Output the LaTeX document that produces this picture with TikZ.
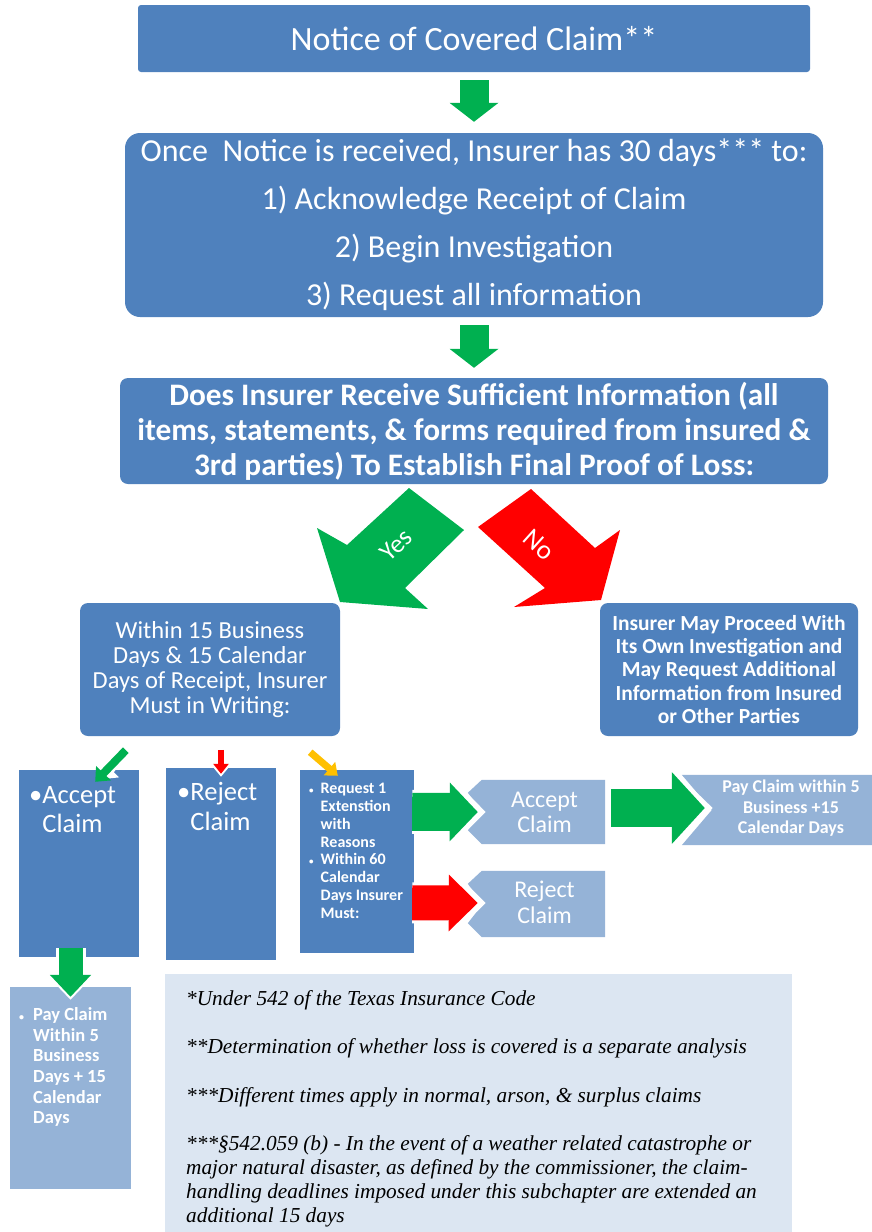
\documentclass[tikz,border=0pt]{standalone}
\usepackage{fontspec}
\setmainfont{Carlito}
\newfontfamily\notefont{Liberation Serif}
\usetikzlibrary{arrows.meta}
\usetikzlibrary{calc}
\definecolor{boxblue}{RGB}{79,129,189}
\definecolor{paleblue}{RGB}{149,179,215}
\definecolor{noteblue}{RGB}{220,230,242}
\definecolor{gogreen}{RGB}{0,176,80}
\definecolor{stopred}{RGB}{255,0,0}
\definecolor{waitamber}{RGB}{255,192,0}
\tikzset{
  darkbox/.style={fill=boxblue, inner sep=0pt, text=white, align=center},
  lightbox/.style={inner sep=0pt, text=white, align=center},
  rowtext/.style={text=white, inner sep=0pt, align=left, anchor=north west},
  blk/.style args={#1/#2/#3}{line width=#1, -{Triangle[length=#2, width=#3]}},
}

\begin{document}
\begin{tikzpicture}[x=1pt, y=-1pt]
      \useasboundingbox (0,0) rectangle (872,1232);
      % main column
      \node[darkbox, rounded corners=3pt, minimum width=672pt, minimum height=67pt, font=\fontsize{34}{40}\selectfont] (notice) at (474,38.5) {Notice of Covered Claim**};
      \node[darkbox, rounded corners=15pt, minimum width=698pt, minimum height=184pt, font=\fontsize{32}{48}\selectfont] (once) at (474,225)
        {Once\ \ Notice is received, Insurer has 30 days*** to:\\1) Acknowledge Receipt of Claim\\2) Begin Investigation\\3) Request all information};
      \node[darkbox, rounded corners=8pt, minimum width=708pt, minimum height=106pt, font=\bfseries\fontsize{31.3}{35}\selectfont] (does) at (474,431)
        {Does Insurer Receive Sufficient Information (all\\items, statements, \& forms required from insured \&\\3rd parties) To Establish Final Proof of Loss:};
      \draw[blk=29pt/19pt/48pt, gogreen] ([yshift=-8pt]notice.south) -- ([yshift=11pt]once.north);
      \draw[blk=29pt/19pt/48pt, gogreen] ([yshift=-8pt]once.south) -- ([yshift=10pt]does.north);

      % yes / no
      \fill[gogreen] (409,488) -- (464,530) -- (405,588) -- (428,609) -- (340,602) -- (317,528) -- (347,545) -- cycle;
      \node[text=white, rotate=43, font=\fontsize{26}{26}\selectfont] (yes) at (396,545) {Yes};
      \fill[stopred] (478,527) -- (531,489) -- (595,548) -- (620,530) -- (601,600) -- (514,607) -- (545,588) -- cycle;
      \node[text=white, rotate=-42, font=\fontsize{27}{27}\selectfont] (no) at (539,545) {No};

      \node[darkbox, rounded corners=8pt, minimum width=260pt, minimum height=133pt, font=\fontsize{24.5}{25}\selectfont] (within) at (210,669.5)
        {Within 15 Business\\Days \& 15 Calendar\\Days of Receipt, Insurer\\Must in Writing:};
      \node[darkbox, rounded corners=8pt, minimum width=258pt, minimum height=133pt, font=\bfseries\fontsize{21.5}{23.2}\selectfont] (proceed) at (729,669.5)
        {Insurer May Proceed With\\Its Own Investigation and\\May Request Additional\\Information from Insured\\or Other Parties};

      % row of outcomes
      \node[darkbox, minimum width=120pt, minimum height=187pt] (accbox) at (79,863.5) {};
      \node[darkbox, minimum width=110pt, minimum height=192pt] (rejbox) at (221,864) {};
      \node[darkbox, minimum width=114pt, minimum height=183pt] (reqbox) at (357,861.5) {};
      \node[rowtext, font=\fontsize{26.5}{29}\selectfont] (acctext) at (29,786) {\textbullet Accept\\\phantom{\textbullet}Claim};
      \node[rowtext, font=\fontsize{26.5}{30}\selectfont] (rejtext) at (177,782) {\textbullet Reject\\\phantom{\textbullet}Claim};
      \node[rowtext, font=\bfseries\fontsize{16}{17.8}\selectfont] (reqtext) at (309,781)
        {\begin{tabular}{@{}l@{\hspace{7pt}}l@{}}
         {\fontsize{9}{9}\selectfont\textbullet} & Request 1\\ & Extenstion\\ & with\\ & Reasons\\
         {\fontsize{9}{9}\selectfont\textbullet} & Within 60\\ & Calendar\\ & Days Insurer\\ & Must:
         \end{tabular}};

      \node[lightbox, minimum width=137pt, minimum height=64pt] (accchev) at (536.5,812) {};
      \fill[paleblue] ($(accchev.north west)+(14,0)$) -- (accchev.north east) -- (accchev.south east) -- ($(accchev.south west)+(14,0)$)
        -- ($(accchev.south west)+(0,-14)$) -- ($(accchev.west)+(15,0)$) -- ($(accchev.north west)+(0,13)$) -- cycle;
      \node[lightbox, font=\fontsize{24}{25}\selectfont] (acclabel) at ($(accchev)+(8,0)$) {Accept\\Claim};
      \node[lightbox, minimum width=137pt, minimum height=66pt] (rejchev) at (536.5,904) {};
      \fill[paleblue] ($(rejchev.north west)+(14,0)$) -- (rejchev.north east) -- (rejchev.south east) -- ($(rejchev.south west)+(14,0)$)
        -- ($(rejchev.south west)+(0,-14)$) -- ($(rejchev.west)+(15,0)$) -- ($(rejchev.north west)+(0,13)$) -- cycle;
      \node[lightbox, font=\fontsize{24}{26}\selectfont] (rejlabel) at ($(rejchev)+(8,-2)$) {Reject\\Claim};
      \node[lightbox, minimum width=190pt, minimum height=70pt] (paybox) at (777,810) {};
      \fill[paleblue] (paybox.north west) -- (paybox.north east) -- (paybox.south east) -- (paybox.south west) -- ($(paybox.west)+(30,0)$) -- cycle;
      \node[lightbox, font=\bfseries\fontsize{18}{20.5}\selectfont] (paylabel) at ($(paybox)+(14,-1.5)$) {Pay Claim within 5\\Business +15\\Calendar Days};

      \node[lightbox, fill=paleblue, minimum width=121pt, minimum height=202pt] (paybox2) at (70.5,1088) {};
      \node[rowtext, font=\bfseries\fontsize{18.5}{20.6}\selectfont] (paytext) at (19,1006)
        {\begin{tabular}{@{}l@{\hspace{9pt}}l@{}}
         {\fontsize{10}{10}\selectfont\textbullet} & Pay Claim\\ & Within 5\\ & Business\\ & Days + 15\\ & Calendar\\ & Days
         \end{tabular}};

      % small arrows
      \draw[blk=13pt/17pt/27pt, white] ($(within.south west)+(46,14)$) -- ($(accbox.north east)+(-42,10)$);
      \draw[blk=8pt/12pt/20pt, gogreen] ($(within.south west)+(46,14)$) -- ($(accbox.north east)+(-44,12)$);
      \draw[blk=11pt/14pt/22pt, white] ($(rejbox.north)+(0,-18)$) -- ($(rejbox.north)+(0,9)$);
      \draw[blk=6pt/10pt/15pt, stopred] ($(rejbox.north)+(0,-18)$) -- ($(rejbox.north)+(0,6)$);
      \draw[blk=7pt/11pt/17pt, waitamber] ($(within.south east)+(-30,16)$) -- ($(reqbox.north west)+(38,6)$);

      \draw[blk=44pt/40pt/78pt, white] ($(reqbox.north east)+(-2,42)$) -- ($(accchev.west)+(18,0)$);
      \draw[blk=38pt/28pt/57pt, gogreen] ($(reqbox.north east)+(-2,42)$) -- ($(accchev.west)+(10,0)$);
      \draw[blk=41pt/40pt/76pt, white] ($(reqbox.north east)+(-2,133)$) -- ($(rejchev.west)+(18,-1)$);
      \draw[blk=35pt/29pt/55pt, stopred] ($(reqbox.north east)+(-2,133)$) -- ($(rejchev.west)+(10,-1)$);
      \draw[blk=44pt/46pt/86pt, white] ($(accchev.east)+(6,-4)$) -- ($(paybox.west)+(31,-2)$);
      \draw[blk=38pt/33pt/70pt, gogreen] ($(accchev.east)+(6,-4)$) -- ($(paybox.west)+(23,-2)$);
      \draw[blk=30pt/26pt/48pt, white] ($(paybox2.north)+(0,-39)$) -- ($(paybox2.north)+(0,13)$);
      \draw[blk=24pt/22pt/40pt, gogreen] ($(paybox2.north)+(0,-39)$) -- ($(paybox2.north)+(0,10)$);

      % notes
      \node[fill=noteblue, inner sep=0pt, minimum width=627pt, minimum height=258pt] (notes) at (478.5,1103) {};
      \node[text=black, inner sep=0pt, align=left, anchor=north west, font=\notefont\itshape\fontsize{21.3}{24.2}\selectfont] (notetext) at (186,990.5)
        {*Under 542 of the Texas Insurance Code\\[24pt]
         **Determination of whether loss is covered is a separate analysis\\[24pt]
         ***Different times apply in normal, arson, \& surplus claims\\[24pt]
         ***\S542.059 (b) - In the event of a weather related catastrophe or\\
         major natural disaster, as defined by the commissioner, the claim-\\
         handling deadlines imposed under this subchapter are extended an\\
         additional 15 days};
    \end{tikzpicture}
\end{document}
